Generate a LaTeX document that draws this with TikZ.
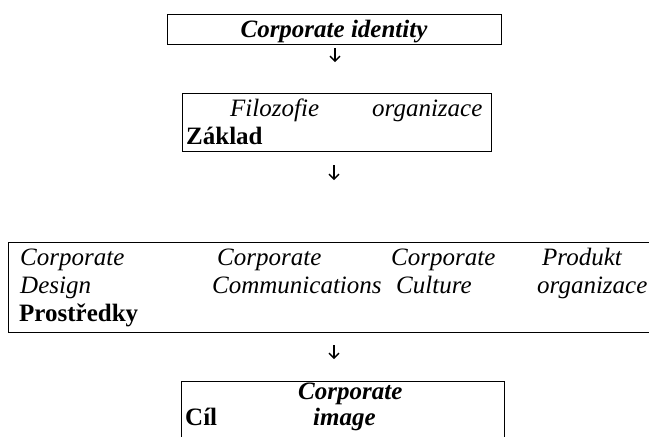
\documentclass[tikz,border=0pt]{standalone}
\usepackage{fontspec}
\setmainfont{Liberation Serif}
\usetikzlibrary{arrows.meta}
\tikzset{
  boxst/.style={draw=black, line width=1.4pt, fill=none, inner sep=0pt, anchor=north west},
  txt/.style={inner sep=0pt, anchor=base west, font=\fontsize{25}{28}\selectfont},
  itx/.style={txt, font=\fontsize{25}{28}\selectfont\itshape},
  bitx/.style={txt, font=\fontsize{25}{28}\selectfont\bfseries\itshape},
  btx/.style={txt, font=\fontsize{25}{28}\selectfont\bfseries},
  arr/.style={line width=1.3pt, -{Straight Barb[length=5pt,width=10pt,line width=1.3pt]}}
}
\begin{document}
\begin{tikzpicture}[x=1pt,y=-1pt]
\clip (0,0) rectangle (649,437);
\fill[white] (0,0) rectangle (649,437);
% boxes
\node[boxst, minimum width=334pt, minimum height=30pt] (b1) at (167,14) {};
\node[boxst, minimum width=309pt, minimum height=58pt] (b2) at (182,93) {};
\node[boxst, minimum width=680pt, minimum height=90pt] (b3) at (8,242) {};
\node[boxst, minimum width=323pt, minimum height=80pt] (b4) at (181,381) {};
% texts
\node[bitx, anchor=base] (t1) at (334,37) {Corporate identity};
\node[itx] (t2a) at (230,116) {Filozofie};
\node[itx] (t2b) at (372,116) {organizace};
\node[btx] (t2c) at (186,144) {Základ};
\node[itx] (t3a) at (20,265) {Corporate};
\node[itx] (t3b) at (20,293) {Design};
\node[itx] (t3c) at (217,265) {Corporate};
\node[itx] (t3d) at (212,293) {Communications};
\node[itx] (t3e) at (391,265) {Corporate};
\node[itx] (t3f) at (396,293) {Culture};
\node[itx] (t3g) at (542,265) {Produkt};
\node[itx] (t3h) at (537,293) {organizace};
\node[btx] (t3i) at (19,321) {Prostředky};
\node[bitx] (t4a) at (298,399) {Corporate};
\node[bitx] (t4b) at (313,425) {image};
\node[btx] (t4c) at (185,425) {Cíl};
% arrows
\coordinate (a1s) at (335,48);
\coordinate (a1e) at (335,62);
\coordinate (a2s) at (334,165);
\coordinate (a2e) at (334,180);
\coordinate (a3s) at (334,345);
\coordinate (a3e) at (334,359);
\draw[arr] (a1s) -- (a1e);
\draw[arr] (a2s) -- (a2e);
\draw[arr] (a3s) -- (a3e);
\end{tikzpicture}
\end{document}
